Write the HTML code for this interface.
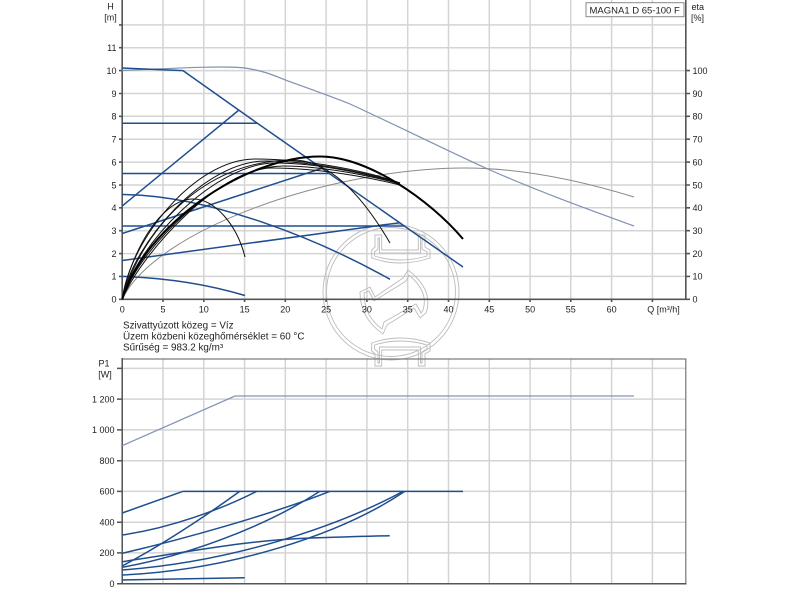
<!DOCTYPE html>
<html><head><meta charset="utf-8"><style>
html,body{margin:0;padding:0;background:#fff;}
svg{display:block;}
text{font-family:"Liberation Sans",Arial,sans-serif;font-size:9px;fill:#222;}
.note{font-size:9.9px;}
</style></head><body>
<svg width="800" height="600" viewBox="0 0 800 600" xmlns="http://www.w3.org/2000/svg">
<rect width="800" height="600" fill="#fff"/>
<!-- TOP GRID -->
<g stroke="#d4d4d4" stroke-width="1.5" fill="none">
<path d="M163,0V299 M203.8,0V299 M244.6,0V299 M285.3,0V299 M326.1,0V299 M366.9,0V299 M407.7,0V299 M448.5,0V299 M489.3,0V299 M530.1,0V299 M570.8,0V299 M611.6,0V299 M652.4,0V299"/>
<path d="M122,276.4H686 M122,253.6H686 M122,230.7H686 M122,207.8H686 M122,185H686 M122,162.1H686 M122,139.2H686 M122,116.3H686 M122,93.5H686 M122,70.6H686 M122,47.7H686 M122,24.9H686"/>
</g>
<!-- BOTTOM GRID -->
<g stroke="#d4d4d4" stroke-width="1.5" fill="none">
<path d="M163,359V584 M203.8,359V584 M244.6,359V584 M285.3,359V584 M326.1,359V584 M366.9,359V584 M407.7,359V584 M448.5,359V584 M489.3,359V584 M530.1,359V584 M570.8,359V584 M611.6,359V584 M652.4,359V584"/>
<path d="M122,552.9H686 M122,522.2H686 M122,491.4H686 M122,460.7H686 M122,429.9H686 M122,399.1H686 M122,368.4H686"/>
</g>
<!-- WATERMARK -->
<g stroke="#bcbcbc" stroke-width="0.9" fill="none">
<circle cx="391" cy="292" r="68"/>
<circle cx="391" cy="292" r="64.5"/>
<path d="M375,235 L381.7,235 L381.7,250 L418.3,250 L418.3,235 L425,235 L425,247 L430,250 L430,258 Q400,268 371.7,258 L371.7,250 L375,247 Z"/>
<path d="M378,238 L379.5,238 L379.5,253 L420.5,253 L420.5,238 L422,238 L422,249 L427,252 L427,256 Q400,264 374.5,256 L374.5,252 L378,249 Z"/>
<path d="M375,366 L381.7,366 L381.7,350 L418.3,350 L418.3,366 L425,366 L425,354 L430,351 L430,343 Q400,333 371.7,343 L371.7,351 L375,354 Z"/>
<path d="M378,363 L379.5,363 L379.5,347 L420.5,347 L420.5,363 L422,363 L422,352 L427,349 L427,345 Q400,337 374.5,345 L374.5,349 L378,352 Z"/>
<path d="M360,292 L370,287 L375,297 L403,278 L408,270 Q434,290 426,313 L420,318 L414,308 L387,325 L383,334 Q360,318 360,292 Z"/>
<path d="M364,293 L369,291 L374,301 L406,281 L409,275 Q429,292 423,310 L421,313 L416,304 L384,322 L382,329 Q364,316 364,293 Z"/>
</g>
<!-- AXES TOP -->
<g stroke="#555" stroke-width="1.6" fill="none">
<path d="M122.2,0V300 M121,299.3H686.5 M685.8,0V300"/>
<path d="M119,299.3h3 M119,276.4h3 M119,253.6h3 M119,230.7h3 M119,207.8h3 M119,185h3 M119,162.1h3 M119,139.2h3 M119,116.3h3 M119,93.5h3 M119,70.6h3 M119,47.7h3 M119,24.9h3"/>
<path d="M686,299.3h4 M686,276.4h4 M686,253.6h4 M686,230.7h4 M686,207.8h4 M686,185h4 M686,162.1h4 M686,139.2h4 M686,116.3h4 M686,93.5h4 M686,70.6h4"/>
<path d="M163,299v3 M203.8,299v3 M244.6,299v3 M285.3,299v3 M326.1,299v3 M366.9,299v3 M407.7,299v3 M448.5,299v3 M489.3,299v3 M530.1,299v3 M570.8,299v3 M611.6,299v3 M652.4,299v3"/>
</g>
<!-- AXES BOTTOM -->
<g stroke="#555" stroke-width="1.5" fill="none">
<rect x="122.2" y="359" width="563.6" height="224.7" stroke="#777" stroke-width="1.2"/>
<path d="M122.2,358V584.5 M121,583.7H686.5"/>
<path d="M117,583.7h5 M117,552.9h5 M117,522.2h5 M117,491.4h5 M117,460.7h5 M117,429.9h5 M117,399.1h5 M117,368.4h5"/>
</g>
<!-- TOP CURVES: light max -->
<path d="M122.2,70.5 C180,68 225,65.5 245,68 C265,71 275,76 290,81.7 C310,89 330,96 350,104 C400,127 450,152 490,170 C540,192 590,210 634,226" stroke="#7f91b3" stroke-width="1.2" fill="none"/>
<!-- gray eta max -->
<path d="M122.2,299.3 C155,230 330,168 465,168 C530,168 595,185 634,197" stroke="#8a8a8a" stroke-width="1" fill="none"/>
<!-- blue curves -->
<g stroke="#1f4e8f" stroke-width="1.5" fill="none">
<path d="M122.2,68 L183,70.6 L257,123 L330,174 L463,267"/>
<path d="M122.2,123.2 L257,123.2"/>
<path d="M122.2,206 L239,110"/>
<path d="M122.2,173.5 L330,173.5"/>
<path d="M122.2,233.5 L323,168"/>
<path d="M122.2,194.5 C210,195 320,240 390,279.3"/>
<path d="M122.2,226 L404,226"/>
<path d="M122.2,260.5 L400,222.7"/>
<path d="M122.2,276.4 C170,278 210,285 245,295.5"/>
</g>
<!-- black curves -->
<g stroke="#111" stroke-width="1" fill="none">
<path d="M122.2,299.3 C130,255 160,199 193,199 C215,199 237,225 245,257"/>
<path d="M122.2,299.3 C140,235 200,160 293,160 Q341.5,160 390,243"/>
<path d="M122.2,299.3 C130,240 195,159 255,159 C310,159 370,172 400,183"/>
<path d="M122.2,299.3 C133,242 205,161 265,161 C315,161 370,174 400,183"/>
<path d="M122.2,299.3 C136,245 215,163 275,163 C320,163 372,175 400,184"/>
<path d="M122.2,299.3 C139,248 222,166 283,166 C325,166 375,177 400,184"/>
<path d="M122.2,299.3 C142,252 220,168 272,168 C320,168 372,178 400,185"/>
</g>
<path d="M122.2,299.3 C145,225 245,156.5 320,156.5 C368,156.5 430,200 463,239" stroke="#000" stroke-width="2" fill="none"/>
<!-- BOTTOM CURVES -->
<path d="M122.2,445.7 L235,396 L634,396" stroke="#8495b6" stroke-width="1.3" fill="none"/>
<g stroke="#1f4e8f" stroke-width="1.5" fill="none">
<path d="M182.7,491.4 L463,491.4"/>
<path d="M122.2,513 L182.7,491.4"/>
<path d="M122.2,535 C170,528 220,510 256.5,491.4"/>
<path d="M122.2,566 C160,546 200,520 239.7,491.4"/>
<path d="M122.2,553.3 C180,540 270,515 329.7,491.4"/>
<path d="M122.2,567.3 C180,557 260,530 319.7,491.4"/>
<path d="M122.2,561.7 C200,550 250,540 311,538 C340,537 370,536 389.7,535.7"/>
<path d="M122.2,570 C230,562 335,528 403,491.4"/>
<path d="M122.2,575 C230,570 340,535 404.7,491.4"/>
<path d="M122.2,580 L244.7,577.7"/>
</g>
<!-- LEGEND -->
<rect x="586" y="2.7" width="98" height="14" fill="#fff" stroke="#888" stroke-width="1"/>
<text x="589.5" y="13.3" style="font-size:9.5px">MAGNA1 D 65-100 F</text>
<!-- AXIS TITLES -->
<text x="110.5" y="9.5" text-anchor="middle">H</text>
<text x="110.5" y="20.5" text-anchor="middle">[m]</text>
<text x="691.5" y="10">eta</text>
<text x="691" y="21">[%]</text>
<text x="104" y="366.5" text-anchor="middle">P1</text>
<text x="105" y="377.5" text-anchor="middle">[W]</text>
<!-- LEFT TICK LABELS TOP -->
<g text-anchor="end">
<text x="116.5" y="302.6">0</text>
<text x="116.5" y="279.7">1</text>
<text x="116.5" y="256.9">2</text>
<text x="116.5" y="234">3</text>
<text x="116.5" y="211.1">4</text>
<text x="116.5" y="188.3">5</text>
<text x="116.5" y="165.4">6</text>
<text x="116.5" y="142.5">7</text>
<text x="116.5" y="119.6">8</text>
<text x="116.5" y="96.8">9</text>
<text x="116.5" y="73.9">10</text>
<text x="116.5" y="51">11</text>
</g>
<!-- RIGHT TICK LABELS -->
<g>
<text x="692.5" y="302.6">0</text>
<text x="692.5" y="279.7">10</text>
<text x="692.5" y="256.9">20</text>
<text x="692.5" y="234">30</text>
<text x="692.5" y="211.1">40</text>
<text x="692.5" y="188.3">50</text>
<text x="692.5" y="165.4">60</text>
<text x="692.5" y="142.5">70</text>
<text x="692.5" y="119.6">80</text>
<text x="692.5" y="96.8">90</text>
<text x="692.5" y="73.9">100</text>
</g>
<!-- X TICK LABELS -->
<g text-anchor="middle">
<text x="122.2" y="312.5">0</text>
<text x="163" y="312.5">5</text>
<text x="203.8" y="312.5">10</text>
<text x="244.6" y="312.5">15</text>
<text x="285.3" y="312.5">20</text>
<text x="326.1" y="312.5">25</text>
<text x="366.9" y="312.5">30</text>
<text x="407.7" y="312.5">35</text>
<text x="448.5" y="312.5">40</text>
<text x="489.3" y="312.5">45</text>
<text x="530.1" y="312.5">50</text>
<text x="570.8" y="312.5">55</text>
<text x="611.6" y="312.5">60</text>
<text x="663.5" y="312.5">Q [m³/h]</text>
</g>
<!-- NOTES -->
<text class="note" x="123" y="328.5">Szivattyúzott közeg = Víz</text>
<text class="note" x="123" y="339.5">Üzem közbeni közeghőmérséklet = 60 °C</text>
<text class="note" x="123" y="350.5">Sűrűség = 983.2 kg/m³</text>
<!-- BOTTOM TICK LABELS -->
<g text-anchor="end">
<text x="114.5" y="587">0</text>
<text x="114.5" y="556.2">200</text>
<text x="114.5" y="525.5">400</text>
<text x="114.5" y="494.7">600</text>
<text x="114.5" y="464">800</text>
<text x="114.5" y="433.2">1 000</text>
<text x="114.5" y="402.4">1 200</text>
</g>
</svg>
</body></html>
